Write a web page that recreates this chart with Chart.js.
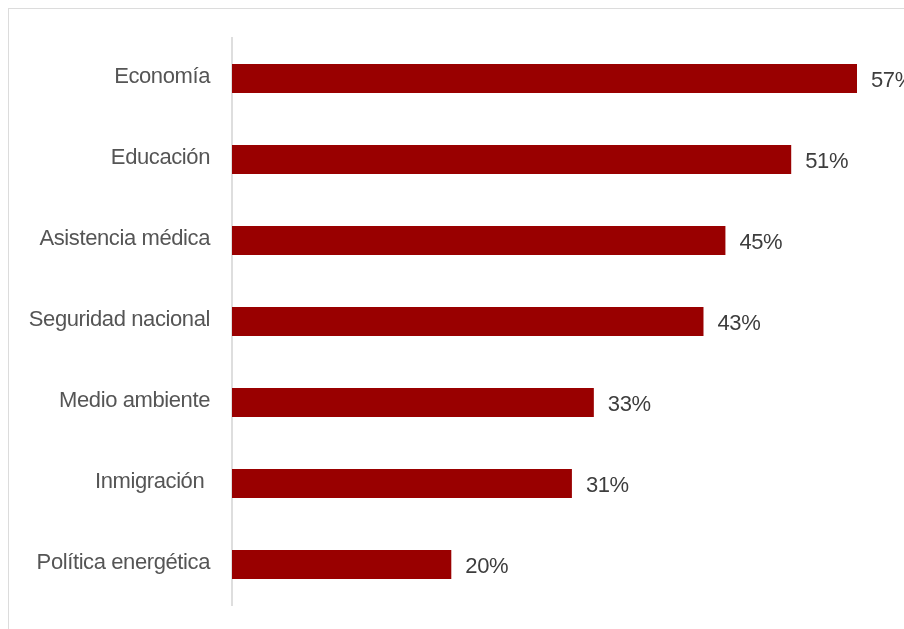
<!DOCTYPE html>
<html>
<head>
<meta charset="utf-8">
<script src="https://cdn.jsdelivr.net/npm/chart.js@4/dist/chart.umd.min.js"></script>
<style>
  html, body { margin: 0; padding: 0; background: #fff; overflow: hidden; }
  #frame {
    position: absolute; left: 8px; top: 8px; width: 1000px; height: 1000px;
    border-top: 1px solid #dcdcdc; border-left: 1px solid #dcdcdc;
  }
  #wrap { position: absolute; left: 0; top: 0; width: 904px; height: 629px; }
</style>
</head>
<body>
<div id="frame"></div>
<div id="wrap"><canvas id="chart"></canvas></div>
<script>
const categories = [
  "Economía",
  "Educación",
  "Asistencia médica",
  "Seguridad nacional",
  "Medio ambiente",
  "Inmigración ",
  "Política energética"
];
const values = [57, 51, 45, 43, 33, 31, 20];

const barColor = "#990000";
const labelFont = { family: "'Liberation Sans', Helvetica, Arial, sans-serif", size: 22 };

// slightly tighter text, like the Helvetica it was set in
const tightText = {
  id: "tightText",
  beforeDraw(chart) {
    chart.ctx.letterSpacing = "-0.4px";
  }
};

// value labels printed just past the end of every bar
const valueLabels = {
  id: "valueLabels",
  afterDatasetsDraw(chart) {
    const ctx = chart.ctx;
    const meta = chart.getDatasetMeta(0);
    ctx.save();
    ctx.font = `${labelFont.size}px ${labelFont.family}`;
    ctx.fillStyle = "#3d3d3d";
    ctx.textAlign = "left";
    ctx.textBaseline = "middle";
    meta.data.forEach((bar, i) => {
      ctx.fillText(values[i] + "%", bar.x + 14, bar.y + 2);
    });
    ctx.restore();
  }
};

const ctx = document.getElementById("chart").getContext("2d");
new Chart(ctx, {
  type: "bar",
  data: {
    labels: categories,
    datasets: [{
      data: values,
      backgroundColor: barColor,
      borderWidth: 0,
      barPercentage: 0.36,
      categoryPercentage: 1
    }]
  },
  options: {
    indexAxis: "y",
    responsive: true,
    maintainAspectRatio: false,
    animation: false,
    layout: { padding: { top: 38, bottom: 24, right: 47, left: 0 } },
    plugins: { legend: { display: false }, tooltip: { enabled: false } },
    scales: {
      x: {
        display: false,
        min: 0,
        max: 57
      },
      y: {
        grid: { display: false, drawTicks: false },
        border: { display: true, color: "#dedede", width: 2 },
        ticks: { color: "#555", font: labelFont, padding: 22, labelOffset: -2 },
        afterFit(scale) {
          scale.width = 232;
          scale.paddingTop = 0;
          scale.paddingBottom = 0;
        }
      }
    }
  },
  plugins: [tightText, valueLabels]
});
</script>
</body>
</html>
